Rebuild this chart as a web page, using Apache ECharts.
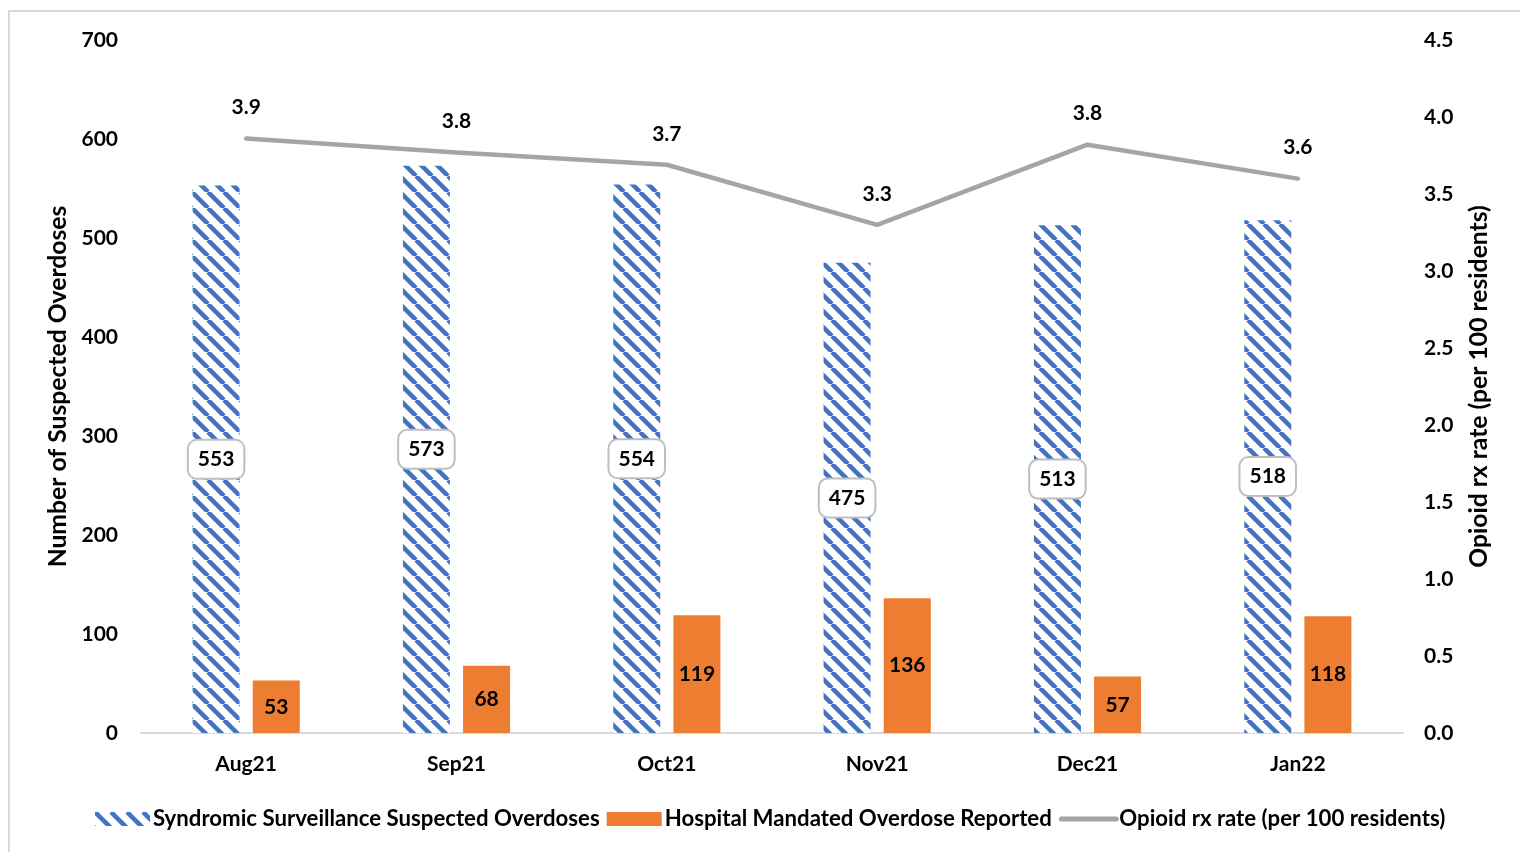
<!DOCTYPE html>
<html>
<head>
<meta charset="utf-8">
<script src="https://cdn.jsdelivr.net/npm/echarts@6/dist/echarts.min.js"></script>
<style>
html,body{margin:0;padding:0;background:#fff;}
#frame{position:absolute;left:8px;top:10px;width:1700px;height:1000px;border:2px solid #d9d9d9;box-sizing:border-box;}
#chart{position:absolute;left:0;top:0;width:1520px;height:852px;}
</style>
</head>
<body>
<div id="frame"></div>
<div id="chart"></div>
<script>
const categories = ['Aug21','Sep21','Oct21','Nov21','Dec21','Jan22'];
const syndromic = [553, 573, 554, 475, 513, 518];
const hospital = [53, 68, 119, 136, 57, 118];
const rxRate = [3.86, 3.77, 3.69, 3.30, 3.82, 3.60];
const leftTicks = {min: 0, max: 700, interval: 100};
const rightTicks = {min: 0, max: 4.5, interval: 0.5};

function stripePattern(){
  const c = document.createElement('canvas');
  const s = 16;
  c.width = s; c.height = s;
  const ctx = c.getContext('2d');
  ctx.fillStyle = '#ffffff';
  ctx.fillRect(0,0,s,s);
  ctx.strokeStyle = '#4472c4';
  ctx.lineWidth = 4.5;
  for (let k = -1; k <= 1; k++) {
    ctx.beginPath();
    ctx.moveTo(k*s, 0);
    ctx.lineTo(k*s + s, s);
    ctx.stroke();
  }
  return c;
}

const FONT = 'Lato';
const TICK = 21;
const chart = echarts.init(document.getElementById('chart'));
chart.setOption({
  animation: false,
  textStyle: {fontFamily: FONT},
  grid: {left: 141, right: 117, top: 40, bottom: 119},
  legend: {
    top: 803,
    left: 90,
    itemWidth: 55,
    itemHeight: 14,
    itemGap: 7,
    textStyle: {fontFamily: FONT, fontWeight: 'bold', fontSize: 22.2, color: '#000', padding: [0,0,0,-2]},
    data: [
      {name: 'Syndromic Surveillance Suspected Overdoses', icon: 'rect'},
      {name: 'Hospital Mandated Overdose Reported', icon: 'rect'},
      {name: 'Opioid rx rate (per 100 residents)', itemStyle: {opacity: 0}, lineStyle: {width: 5, cap: 'round'}}
    ]
  },
  xAxis: {
    type: 'category',
    data: categories,
    axisLine: {lineStyle: {color: '#d9d9d9', width: 2}},
    axisTick: {show: false},
    axisLabel: {color: '#000', fontWeight: 'bold', fontSize: TICK, margin: 21, fontFamily: FONT}
  },
  yAxis: [
    {
      type: 'value',
      min: leftTicks.min, max: leftTicks.max, interval: leftTicks.interval,
      name: 'Number of Suspected Overdoses',
      nameLocation: 'middle',
      nameGap: 68,
      nameTextStyle: {color: '#000', fontWeight: 'bold', fontSize: 24.7, fontFamily: FONT},
      splitLine: {show: false},
      axisLine: {show: false},
      axisTick: {show: false},
      axisLabel: {color: '#000', fontWeight: 'bold', fontSize: TICK, margin: 23, fontFamily: FONT}
    },
    {
      type: 'value',
      min: rightTicks.min, max: rightTicks.max, interval: rightTicks.interval,
      name: 'Opioid rx rate (per 100 residents)',
      nameLocation: 'middle',
      nameGap: 64,
      nameRotate: 90,
      nameTextStyle: {color: '#000', fontWeight: 'bold', fontSize: 24.7, fontFamily: FONT},
      splitLine: {show: false},
      axisLine: {show: false},
      axisTick: {show: false},
      axisLabel: {color: '#000', fontWeight: 'bold', fontSize: TICK, margin: 21, fontFamily: FONT,
        formatter: v => v.toFixed(1)}
    }
  ],
  series: [
    {
      name: 'Syndromic Surveillance Suspected Overdoses',
      type: 'bar',
      data: syndromic,
      barWidth: 47,
      barGap: '28%',
      itemStyle: {color: {image: stripePattern(), repeat: 'repeat'}},
      label: {
        show: true, position: 'inside', color: '#000', fontWeight: 'bold', fontSize: TICK, fontFamily: FONT,
        backgroundColor: '#fff', borderColor: '#bfbfbf', borderWidth: 2, borderRadius: 8,
        padding: [9, 9, 7, 9]
      }
    },
    {
      name: 'Hospital Mandated Overdose Reported',
      type: 'bar',
      data: hospital,
      barWidth: 47,
      itemStyle: {color: '#ed7d31'},
      label: {show: true, position: 'inside', color: '#000', fontWeight: 'bold', fontSize: TICK, fontFamily: FONT}
    },
    {
      name: 'Opioid rx rate (per 100 residents)',
      type: 'line',
      yAxisIndex: 1,
      data: rxRate,
      symbol: 'circle',
      symbolSize: 1,
      showSymbol: true,
      lineStyle: {color: '#a5a5a5', width: 4.5, cap: 'round'},
      itemStyle: {color: '#a5a5a5'},
      label: {show: true, position: 'top', distance: 20, color: '#000', fontWeight: 'bold', fontSize: TICK, fontFamily: FONT,
        formatter: p => p.value.toFixed(1)}
    }
  ]
});
</script>
</body>
</html>
